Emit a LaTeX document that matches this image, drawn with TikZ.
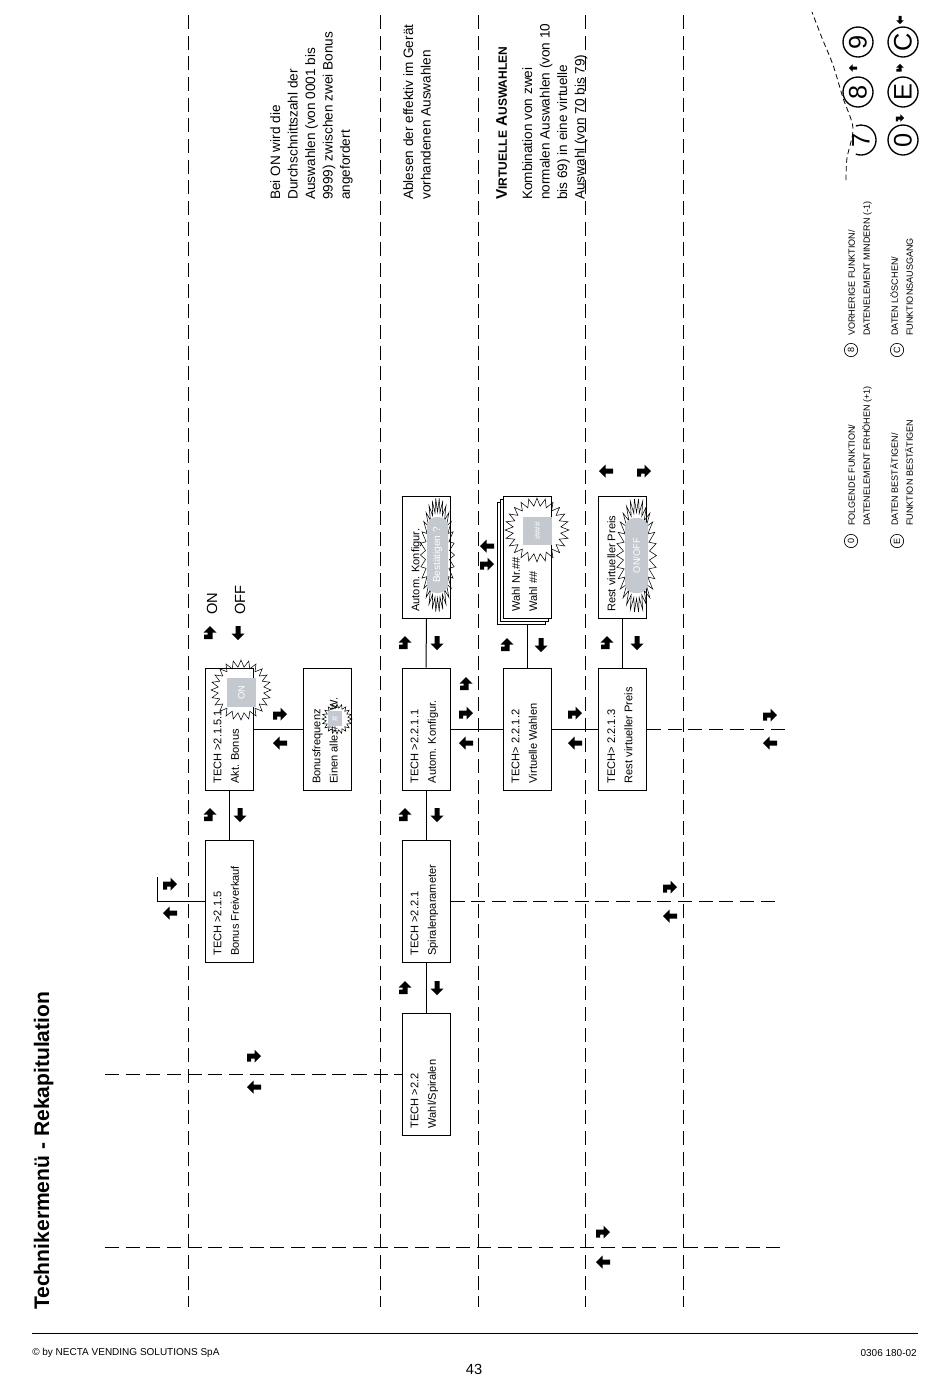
\documentclass[tikz,border=0pt]{standalone}
\usepackage{fontspec}
\setmainfont{Liberation Sans}
\usetikzlibrary{calc}
\definecolor{lcdgray}{RGB}{196,201,207}
\tikzset{
  pics/arR/.style={code={\fill (7,0) -- (0.5,-6.5) -- (0.5,-2.5) -- (-7,-2.5) -- (-7,5.5) -- (-3,5.5) -- (-3,2.5) -- (0.5,2.5) -- (0.5,6.5) -- cycle;}},
  pics/arL/.style={code={\fill (-7,0) -- (-0.5,-6.5) -- (-0.5,-2.5) -- (7,-2.5) -- (7,2.5) -- (-0.5,2.5) -- (-0.5,6.5) -- cycle;}},
  pics/arD/.style={code={\fill (0,7) -- (-6.5,0.5) -- (-2.5,0.5) -- (-2.5,-7) -- (2.5,-7) -- (2.5,0.5) -- (6.5,0.5) -- cycle;}},
  pics/arU/.style={code={\fill (0,-7) -- (6.5,-0.5) -- (2.5,-0.5) -- (2.5,6) -- (-6,6) -- (-6,1.5) -- (-2.5,1.5) -- (-2.5,-0.5) -- (-6.5,-0.5) -- cycle;}},
  box/.style={draw, line width=0.75pt, fill=white, minimum width=36pt, minimum height=91.5pt, inner sep=0pt},
  btxt/.style={rotate=90, anchor=north west, align=left, inner sep=0pt, font=\fontsize{8.3}{13}\selectfont},
  desc/.style={rotate=90, anchor=north west, align=left, inner sep=0pt, font=\fontsize{10.2}{13.1}\selectfont},
  legt/.style={rotate=90, anchor=north west, align=left, inner sep=0pt, font=\fontsize{6.8}{11.2}\selectfont},
  dline/.style={line width=0.7pt, dash pattern=on 10.5pt off 5pt},
  conn/.style={line width=0.75pt},
  burst/.style={line width=0.4pt},
  lcd/.style={fill=lcdgray, inner sep=0pt, text=white, rotate=90, font=\fontsize{7}{8}\selectfont},
  pill/.style={lcd, rounded corners=7pt},
  keyc/.style={circle, draw, line width=1pt, minimum size=22.5pt, inner sep=0pt, rotate=90, font=\fontsize{19}{19}\selectfont},
  keys/.style={circle, draw, line width=0.5pt, minimum size=10pt, inner sep=0pt, rotate=90, font=\fontsize{6.8}{7}\selectfont}
}
\begin{document}
\begin{tikzpicture}[x=0.75pt,y=-0.75pt]
\fill[white] (0,0) rectangle (950,1379);
\useasboundingbox (0,0) rectangle (950,1379);

% title
\node[rotate=90, anchor=base west, inner sep=0pt, font=\bfseries\fontsize{15.8}{18}\selectfont] (title) at (49,1310) {Technikermenü - Rekapitulation};

% vertical dashed lines
\foreach \xx in {188,380,478,585,683} {
  \draw[dline] (\xx,15) -- (\xx,1307);
}
% horizontal dashed lines
\coordinate (h1a) at (105,1074);
\coordinate (h2a) at (105,1247);
\coordinate (h2b) at (780,1247);
\coordinate (h3b) at (780,901.5);
\coordinate (h4b) at (790,729);
\draw[dline] (h2a) -- (h2b);

% boxes
\node[box] (b215) at (229,901.5) {};
\node[box] (b2151) at (229,729.5) {};
\node[box] (bfreq) at (327.5,729.5) {};
\node[box] (b22) at (426,1074) {};
\node[box] (b221) at (426,901.5) {};
\node[box] (b2211) at (426,729) {};
\node[box] (b2212) at (527,729) {};
\node[box] (b2213) at (622.5,729) {};
\node[box] (bauto) at (426.5,557.5) {};
\node[box] (bwahlC) at (521,563.5) {};
\node[box] (bwahlB) at (524,560.5) {};
\node[box] (bwahl) at (527,557.5) {};
\node[box] (brest) at (622.5,557.5) {};

% connectors
\coordinate (c157) at (157,901.5);
\coordinate (c157t) at (157,877);
\draw[conn] (b215.west) -- (c157) -- (c157t);
\draw[conn] (b215.north) -- (b2151.south);
\draw[conn] (b2151.east) -- (bfreq.west);
\draw[dline] (h1a) -- (b22.west);
\draw[conn] (b22.north) -- (b221.south);
\draw[conn] (b221.north) -- (b2211.south);
\draw[conn] (b2211.north) -- (bauto.south);
\draw[conn] (b2212.north) -- (b2212.north |- bwahlC.south);
\draw[conn] (b2213.north) -- (brest.south);
\draw[conn] (b2211.east) -- (b2212.west);
\draw[conn] (b2212.east) -- (b2213.west);
\draw[dline] (b2213.east) -- (h4b);
\draw[dline] (b221.east) -- (h3b);

% box texts
\node[btxt] (t215) at ($(b215.south west)+(9,-7)$) {TECH >2.1.5\\Bonus Freiverkauf};
\node[btxt] (t2151) at ($(b2151.south west)+(9,-7)$) {TECH >2.1.5.1\\Akt. Bonus};
\node[btxt] (tfreq) at ($(bfreq.south west)+(9,-7)$) {Bonusfrequenz\\Einen alle \#\#\# W.};
\node[btxt] (t22) at ($(b22.south west)+(9,-7)$) {TECH >2.2\\Wahl/Spiralen};
\node[btxt] (t221) at ($(b221.south west)+(9,-7)$) {TECH >2.2.1\\Spiralenparameter};
\node[btxt] (t2211) at ($(b2211.south west)+(9,-7)$) {TECH >2.2.1.1\\Autom. Konfigur.};
\node[btxt] (t2212) at ($(b2212.south west)+(9,-7)$) {TECH> 2.2.1.2\\Virtuelle Wahlen};
\node[btxt] (t2213) at ($(b2213.south west)+(9,-7)$) {TECH> 2.2.1.3\\Rest virtueller Preis};
\node[btxt] (tauto) at ($(bauto.south west)+(9,-7)$) {Autom. Konfigur.};
\node[btxt] (twahl) at ($(bwahl.south west)+(9,-7)$) {Wahl Nr.\#\#\\Wahl \#\#};
\node[btxt] (trest) at ($(brest.south west)+(9,-7)$) {Rest virtueller Preis};

% starbursts
\begin{scope}[shift={(241,690)}]
  \draw[burst] (0:30) \foreach \i in {0,...,23}{ -- ({\i*15}:30) -- ({\i*15+7.5}:23)} -- cycle;
\end{scope}
\begin{scope}[shift={(337,719)}]
  \draw[burst] (0:15) \foreach \i in {0,...,19}{ -- ({\i*18}:15) -- ({\i*18+9}:11)} -- cycle;
\end{scope}
\begin{scope}[shift={(537,530)}]
  \draw[burst] (0:32) \foreach \i in {0,...,23}{ -- ({\i*15}:32) -- ({\i*15+7.5}:24)} -- cycle;
\end{scope}
\begin{scope}[shift={(437.5,555)}]
  \draw[burst] (0:17 and 57) \foreach \i in {0,...,29}{ -- ({\i*12}:17 and 57) -- ({\i*12+6}:12 and 43)} -- cycle;
\end{scope}
\begin{scope}[shift={(636.5,555.5)}]
  \draw[burst] (0:20 and 57) \foreach \i in {0,...,29}{ -- ({\i*12}:20 and 57) -- ({\i*12+6}:13 and 43)} -- cycle;
\end{scope}

% LCD fields
\node[lcd, minimum width=21.75pt, minimum height=21.75pt] (lon) at (241.5,692.5) {ON};
\node[lcd, minimum width=11.25pt, minimum height=10.5pt] (lhash) at (335,718.5) {\#};
\node[lcd, minimum width=21pt, minimum height=21.75pt, font=\fontsize{6}{7}\selectfont] (lwahl) at (537.5,531) {\#\#\#\#};
\node[pill, minimum width=57pt, minimum height=15.75pt, font=\fontsize{7.5}{8}\selectfont] (lbest) at (437.5,555) {Bestätigen ?};
\node[pill, minimum width=56.25pt, minimum height=17.25pt] (lonoff) at (636.5,555.5) {ON/OFF};

% ON / OFF labels
\node[rotate=90, anchor=west, inner sep=0pt, font=\fontsize{11}{12}\selectfont] (lblon) at (212,615) {ON};
\node[rotate=90, anchor=west, inner sep=0pt, font=\fontsize{11}{12}\selectfont] (lbloff) at (240,615) {OFF};

% key arrows
\pic at (170,884) {arR}; \pic at (170,913) {arL};
\pic at (210,815) {arU}; \pic at (240,815) {arD};
\pic at (210,633) {arU}; \pic at (238,633) {arD};
\pic at (280,714) {arR}; \pic at (280,743) {arL};
\pic at (405,988) {arU}; \pic at (437,988) {arD};
\pic at (405,815) {arU}; \pic at (437,815) {arD};
\pic at (405,643) {arU}; \pic at (437,643) {arD};
\pic at (254,1056) {arR}; \pic at (254,1087) {arL};
\pic at (466,684) {arU}; \pic at (466,713) {arR}; \pic at (466,743) {arL};
\pic at (575,713) {arR}; \pic at (575,743) {arL};
\pic at (770,715) {arR}; \pic at (770,743) {arL};
\pic at (670,887) {arR}; \pic at (670,916) {arL};
\pic at (603,1232) {arR}; \pic at (603,1262) {arL};
\pic at (507,645) {arU}; \pic at (541,645) {arD};
\pic at (607,643) {arU}; \pic at (637,643) {arD};
\pic at (487,546) {arL}; \pic at (487,564) {arR};
\pic at (606,471) {arL}; \pic at (644,471) {arR};

% descriptions
\node[desc] (d1) at (270,200) {Bei ON wird die\\Durchschnittszahl der\\Auswahlen (von 0001 bis\\9999) zwischen zwei Bonus\\angefordert};
\node[desc] (d2) at (403,200) {Ablesen der effektiv im Gerät\\vorhandenen Auswahlen};
\node[desc, font=\bfseries\fontsize{11.5}{13}\selectfont] (d3h) at (496,200) {V{\fontsize{9}{10}\selectfont IRTUELLE} A{\fontsize{9}{10}\selectfont USWAHLEN}};
\node[desc] (d3) at (522,200) {Kombination von zwei\\normalen Auswahlen (von 10\\bis 69) in eine virtuelle\\Auswahl (von 70 bis 79)};

% legend
\node[keys] (s0) at (851,541) {0};
\node[keys] (s8) at (851,350) {8};
\node[keys] (sE) at (897,541) {E};
\node[keys] (sC) at (897,350) {C};
\node[legt] (l0) at (848,526) {FOLGENDE FUNKTION/\\DATENELEMENT ERHÖHEN (+1)};
\node[legt] (l8) at (848,336) {VORHERIGE FUNKTION/\\DATENELEMENT MINDERN (-1)};
\node[legt] (lE) at (890,526) {DATEN BESTÄTIGEN/\\FUNKTION BESTÄTIGEN};
\node[legt] (lC) at (890,336) {DATEN LÖSCHEN/\\FUNKTIONSAUSGANG};

% keypad
\node[keyc] (k9) at (858,42) {9};
\node[keyc] (k8) at (858,92) {8};
\node[rotate=90, inner sep=0pt, font=\fontsize{19}{19}\selectfont] (k7) at (861,140) {7};
\draw[line width=1pt] ($(k7.center)+(-110:11.25pt)$) arc[start angle=-110, end angle=110, radius=11.25pt];
\node[keyc] (kC) at (903,42) {C};
\node[keyc] (kE) at (903,92) {E};
\node[keyc] (k0) at (903,140) {0};
\draw[line width=0.6pt, dash pattern=on 4pt off 2.5pt] plot[smooth] coordinates {(846,180) (847,158) (853,128) (843,98) (833,65) (822,38) (812,12)};
\pic[scale=0.6] at (853,68) {arL};
\pic[scale=0.6] at (900,68) {arU};
\pic[scale=0.6] at (900,20) {arD};
\pic[scale=0.6] at (900,118) {arR};

% footer
\coordinate (fl) at (32,1333);
\coordinate (fr) at (918,1333);
\draw[line width=0.75pt] (fl) -- (fr);
\node[anchor=west, inner sep=0pt, font=\fontsize{7.5}{9}\selectfont] (copy) at (32,1353) {© by NECTA VENDING SOLUTIONS SpA};
\node[anchor=east, inner sep=0pt, font=\fontsize{7.5}{9}\selectfont] (code) at (917,1353) {0306 180-02};
\node[inner sep=0pt, font=\fontsize{11}{12}\selectfont] (pg) at (474,1369) {43};
\end{tikzpicture}
\end{document}
